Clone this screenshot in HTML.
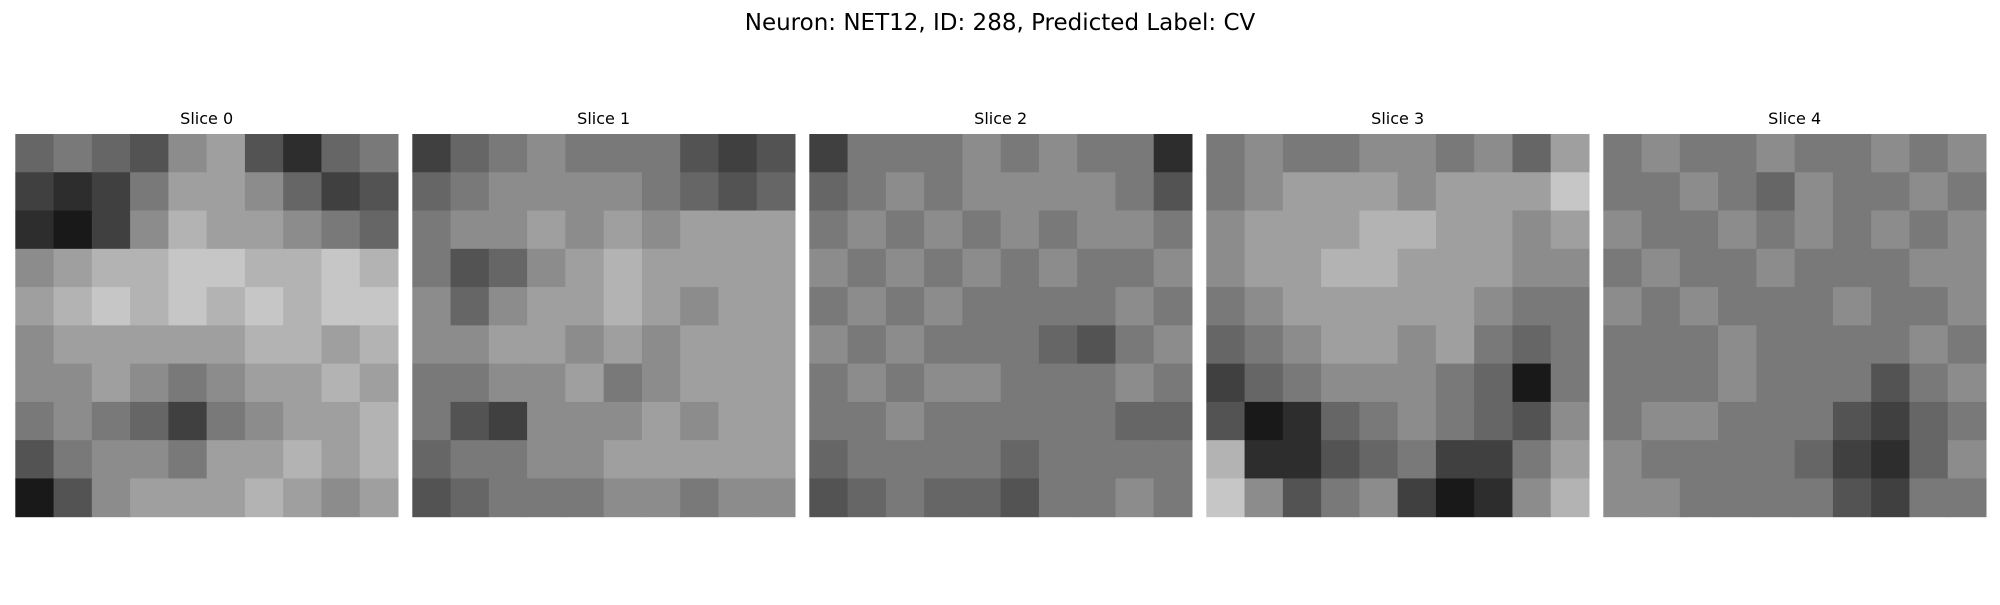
<!DOCTYPE html>
<html>
<head>
<meta charset="utf-8">
<style>
  html, body { margin: 0; padding: 0; background: #fff; }
  body { width: 2000px; height: 600px; overflow: hidden; font-family: "Liberation Sans", "DejaVu Sans", sans-serif; }
</style>
</head>
<body>
<svg id="fig" width="2000" height="600" viewBox="0 0 2000 600" xmlns="http://www.w3.org/2000/svg">
  <text x="1000" y="30" text-anchor="middle" font-size="23" fill="#000" font-family="DejaVu Sans, Liberation Sans, sans-serif">Neuron: NET12, ID: 288, Predicted Label: CV</text>
</svg>
<script>
// Per-slice coarse grayscale intensity grids (0 = black, 1 = white)
const sliceTitles = ["Slice 0", "Slice 1", "Slice 2", "Slice 3", "Slice 4"];
const slice0 = [
 [.45,.5,.45,.4,.55,.6,.4,.3,.45,.5],
 [.35,.3,.35,.5,.6,.6,.55,.45,.35,.4],
 [.3,.25,.35,.55,.65,.6,.6,.55,.5,.45],
 [.55,.6,.65,.65,.7,.7,.65,.65,.7,.65],
 [.6,.65,.7,.65,.7,.65,.7,.65,.7,.7],
 [.55,.6,.6,.6,.6,.6,.65,.65,.6,.65],
 [.55,.55,.6,.55,.5,.55,.6,.6,.65,.6],
 [.5,.55,.5,.45,.35,.5,.55,.6,.6,.65],
 [.4,.5,.55,.55,.5,.6,.6,.65,.6,.65],
 [.25,.4,.55,.6,.6,.6,.65,.6,.55,.6]];
const slice1 = [
 [.35,.45,.5,.55,.5,.5,.5,.4,.35,.4],
 [.45,.5,.55,.55,.55,.55,.5,.45,.4,.45],
 [.5,.55,.55,.6,.55,.6,.55,.6,.6,.6],
 [.5,.4,.45,.55,.6,.65,.6,.6,.6,.6],
 [.55,.45,.55,.6,.6,.65,.6,.55,.6,.6],
 [.55,.55,.6,.6,.55,.6,.55,.6,.6,.6],
 [.5,.5,.55,.55,.6,.5,.55,.6,.6,.6],
 [.5,.4,.35,.55,.55,.55,.6,.55,.6,.6],
 [.45,.5,.5,.55,.55,.6,.6,.6,.6,.6],
 [.4,.45,.5,.5,.5,.55,.55,.5,.55,.55]];
const slice2 = [
 [.35,.5,.5,.5,.55,.5,.55,.5,.5,.3],
 [.45,.5,.55,.5,.55,.55,.55,.55,.5,.4],
 [.5,.55,.5,.55,.5,.55,.5,.55,.55,.5],
 [.55,.5,.55,.5,.55,.5,.55,.5,.5,.55],
 [.5,.55,.5,.55,.5,.5,.5,.5,.55,.5],
 [.55,.5,.55,.5,.5,.5,.45,.4,.5,.55],
 [.5,.55,.5,.55,.55,.5,.5,.5,.55,.5],
 [.5,.5,.55,.5,.5,.5,.5,.5,.45,.45],
 [.45,.5,.5,.5,.5,.45,.5,.5,.5,.5],
 [.4,.45,.5,.45,.45,.4,.5,.5,.55,.5]];
const slice3 = [
 [.5,.55,.5,.5,.55,.55,.5,.55,.45,.6],
 [.5,.55,.6,.6,.6,.55,.6,.6,.6,.7],
 [.55,.6,.6,.6,.65,.65,.6,.6,.55,.6],
 [.55,.6,.6,.65,.65,.6,.6,.6,.55,.55],
 [.5,.55,.6,.6,.6,.6,.6,.55,.5,.5],
 [.45,.5,.55,.6,.6,.55,.6,.5,.45,.5],
 [.35,.45,.5,.55,.55,.55,.5,.45,.25,.5],
 [.4,.25,.3,.45,.5,.55,.5,.45,.4,.55],
 [.65,.3,.3,.4,.45,.5,.35,.35,.5,.6],
 [.7,.55,.4,.5,.55,.35,.25,.3,.55,.65]];
const slice4 = [
 [.5,.55,.5,.5,.55,.5,.5,.55,.5,.55],
 [.5,.5,.55,.5,.45,.55,.5,.5,.55,.5],
 [.55,.5,.5,.55,.5,.55,.5,.55,.5,.55],
 [.5,.55,.5,.5,.55,.5,.5,.5,.55,.55],
 [.55,.5,.55,.5,.5,.5,.55,.5,.5,.55],
 [.5,.5,.5,.55,.5,.5,.5,.5,.55,.5],
 [.5,.5,.5,.55,.5,.5,.5,.4,.5,.55],
 [.5,.55,.55,.5,.5,.5,.4,.35,.45,.5],
 [.55,.5,.5,.5,.5,.45,.35,.3,.45,.55],
 [.55,.55,.5,.5,.5,.5,.4,.35,.5,.5]];
const slices = [slice0, slice1, slice2, slice3, slice4];

const NS = "http://www.w3.org/2000/svg";
const svg = document.getElementById("fig");
const panelX0 = 15.3, panelStep = 397.0, panelY = 134, panelSize = 382.7;
function xScale(i, col, n) { return panelX0 + i * panelStep + col * panelSize / n; }
function yScale(row, n) { return panelY + row * panelSize / n; }
function gray(v) {
  const s = 0.55 + (v - 0.55) * 1.5;
  const g = Math.max(0, Math.min(255, Math.round(s * 255)));
  return `rgb(${g},${g},${g})`;
}

slices.forEach((grid, i) => {
  const g = document.createElementNS(NS, "g");
  
  
  svg.appendChild(g);
  const n = grid.length;
  const cw = panelSize / n;
  grid.forEach((row, r) => {
    row.forEach((v, c) => {
      const rect = document.createElementNS(NS, "rect");
      rect.setAttribute("x", xScale(i, c, n));
      rect.setAttribute("y", yScale(r, n));
      rect.setAttribute("width", cw + 0.5);
      rect.setAttribute("height", cw + 0.5);
      rect.setAttribute("fill", gray(v));
      
      
      g.appendChild(rect);
    });
  });
  const t = document.createElementNS(NS, "text");
  t.setAttribute("x", panelX0 + i * panelStep + panelSize / 2);
  t.setAttribute("y", 124);
  t.setAttribute("text-anchor", "middle");
  t.setAttribute("font-size", "16");
  t.setAttribute("font-family", "DejaVu Sans, Liberation Sans, sans-serif");
  t.textContent = sliceTitles[i];
  
  
  svg.appendChild(t);
});
</script>
</body>
</html>
